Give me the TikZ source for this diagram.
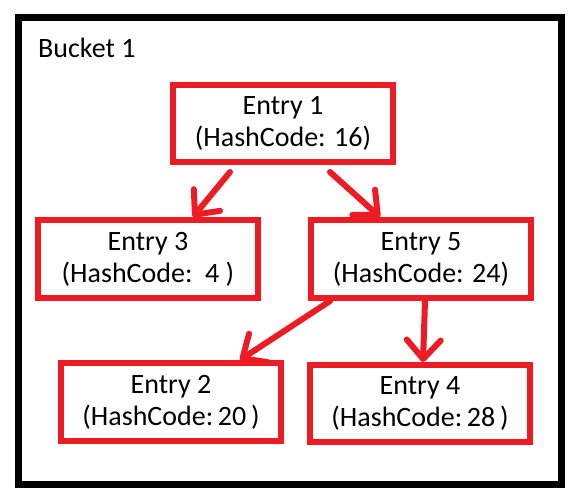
\documentclass[tikz,border=0pt]{standalone}
\usepackage{fontspec}
\setmainfont{Carlito}
\usetikzlibrary{arrows.meta}
\definecolor{pred}{HTML}{ED1C24}
\tikzset{
  entry/.style={draw=pred, line width=6pt, rectangle, minimum width=220pt, minimum height=77pt,
    inner sep=0pt, align=center, font=\fontsize{28}{32}\selectfont, text=black},
  arr/.style={draw=pred, line width=6pt, line cap=round,
    -{Straight Barb[length=19pt, width=34pt, line cap=round, line join=round]}},
}
\begin{document}
\begin{tikzpicture}[x=1pt, y=-1pt]
\useasboundingbox (0,0) rectangle (572,498);
\fill[white] (0,0) rectangle (572,498);
\draw[black, line width=7pt] (18,17) rectangle (561,484);
\node[anchor=base west, font=\fontsize{28}{32}\selectfont, inner sep=0pt] (bucket) at (38,57) {Bucket 1};
\node[entry] (e1) at (283,123.5) {Entry 1\\(HashCode: 16)};
\node[entry, minimum height=78pt] (e3) at (148,259) {Entry 3\\(HashCode:\ \ 4\ )};
\node[entry, minimum height=78pt] (e5) at (421,259) {Entry 5\\(HashCode: 24)};
\node[entry, minimum height=78pt] (e2) at (171,402) {Entry 2\\(HashCode:\,20\,)};
\node[entry] (e4) at (420,403.5) {Entry 4\\(HashCode:\,28\,)};
\draw[arr] ([shift={(60,7)}]e1.south west) -- ([shift={(45,0)}]e3.north);
\draw[arr] ([shift={(-66,7)}]e1.south east) -- ([shift={(-41,0)}]e5.north);
\draw[arr] ([shift={(22,0)}]e5.south west) -- ([shift={(69,0)}]e2.north);
\draw[arr] ([shift={(4,0)}]e5.south) -- ([shift={(3,0)}]e4.north);
\end{tikzpicture}
\end{document}
